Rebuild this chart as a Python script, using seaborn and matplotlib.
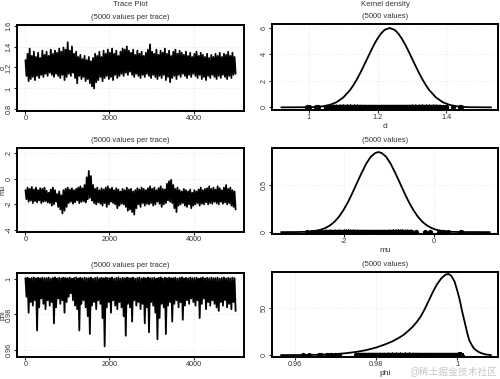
import numpy as np
import pandas as pd
import matplotlib
matplotlib.use("Agg")
import matplotlib.pyplot as plt
import seaborn as sns

# Trace envelopes (one high / one low value per 50 iterations)
d_hi = [1.27, 1.33, 1.38, 1.31, 1.35, 1.30, 1.34, 1.29, 1.36, 1.32,
        1.35, 1.31, 1.37, 1.33, 1.36, 1.34, 1.38, 1.35, 1.39, 1.37,
        1.44, 1.36, 1.40, 1.33, 1.35, 1.30, 1.32, 1.28, 1.31, 1.27,
        1.30, 1.26, 1.29, 1.33, 1.31, 1.35, 1.30, 1.36, 1.33, 1.37,
        1.34, 1.38, 1.33, 1.36, 1.31, 1.35, 1.38, 1.37, 1.40, 1.36,
        1.34, 1.37, 1.32, 1.36, 1.33, 1.35, 1.31, 1.34, 1.37, 1.42,
        1.35, 1.33, 1.37, 1.32, 1.36, 1.34, 1.38, 1.33, 1.36, 1.31,
        1.35, 1.37, 1.33, 1.36, 1.34, 1.32, 1.35, 1.31, 1.34, 1.30,
        1.33, 1.35, 1.31, 1.34, 1.32, 1.30, 1.33, 1.29, 1.32, 1.30,
        1.33, 1.31, 1.34, 1.30, 1.33, 1.32, 1.35, 1.31, 1.34, 1.30]
d_lo = [1.12, 1.07, 1.09, 1.11, 1.08, 1.12, 1.10, 1.13, 1.11, 1.14,
        1.12, 1.15, 1.13, 1.11, 1.14, 1.12, 1.10, 1.13, 1.08, 1.11,
        1.14, 1.12, 1.15, 1.10, 1.05, 1.12, 1.09, 1.11, 1.07, 1.09,
        1.05, 1.02, 1.00, 1.06, 1.08, 1.11, 1.07, 1.10, 1.12, 1.09,
        1.11, 1.08, 1.13, 1.10, 1.12, 1.14, 1.12, 1.15, 1.13, 1.16,
        1.13, 1.11, 1.14, 1.12, 1.10, 1.13, 1.11, 1.14, 1.12, 1.10,
        1.13, 1.11, 1.09, 1.12, 1.10, 1.13, 1.08, 1.11, 1.06, 1.10,
        1.12, 1.09, 1.13, 1.11, 1.14, 1.12, 1.10, 1.13, 1.11, 1.14,
        1.12, 1.10, 1.13, 1.09, 1.11, 1.08, 1.12, 1.10, 1.13, 1.11,
        1.09, 1.12, 1.10, 1.13, 1.11, 1.09, 1.12, 1.10, 1.13, 1.14]

mu_hi = [-0.9, -0.7, -0.8, -0.65, -0.85, -0.7, -0.9, -0.75, -0.8, -0.7,
         -0.95, -1.1, -0.85, -0.7, -0.9, -1.2, -1.0, -1.3, -0.9, -0.8,
         -0.7, -0.85, -0.75, -0.9, -0.8, -0.7, -0.6, -0.75, -0.5, 0.1,
         0.6, 0.2, -0.5, -0.8, -0.7, -0.9, -0.75, -0.85, -0.7, -0.6,
         -0.8, -0.7, -0.9, -0.75, -0.85, -1.0, -0.8, -0.9, -0.7, -0.85,
         -0.8, -1.0, -0.9, -0.75, -0.85, -0.7, -0.8, -0.9, -0.75, -0.6,
         -0.8, -0.7, -0.9, -0.75, -0.6, -0.8, -0.85, -0.4, -0.2, -0.1,
         -0.5, -0.8, -0.7, -0.9, -1.0, -0.8, -0.9, -1.0, -0.85, -1.1,
         -0.9, -1.0, -0.85, -0.7, -0.9, -0.8, -0.75, -0.6, -0.8, -0.7,
         -0.85, -0.6, -0.75, -0.9, -0.7, -0.5, -0.8, -0.7, -0.9, -1.0]
mu_lo = [-1.6, -1.8, -1.7, -1.9, -1.75, -1.85, -1.7, -1.9, -1.8, -1.75,
         -1.85, -1.9, -2.1, -2.0, -1.8, -2.2, -2.4, -2.7, -2.5, -2.2,
         -1.9, -1.8, -1.95, -1.85, -1.7, -1.9, -1.8, -1.75, -1.85, -1.6,
         -1.5, -1.7, -1.9, -2.0, -1.85, -1.95, -2.1, -1.9, -2.2, -2.0,
         -1.8, -1.9, -2.0, -2.3, -2.1, -1.95, -2.0, -2.2, -2.5, -2.4,
         -2.6, -2.8, -2.3, -2.0, -2.2, -1.9, -2.1, -1.95, -2.0, -1.9,
         -2.1, -2.0, -1.8, -1.95, -2.2, -2.0, -1.9, -1.7, -1.8, -1.9,
         -2.3, -2.6, -2.1, -2.0, -1.9, -2.1, -2.2, -2.0, -2.3, -2.1,
         -2.0, -1.9, -2.1, -1.95, -2.0, -1.85, -2.0, -1.9, -1.95, -1.8,
         -1.9, -2.0, -1.8, -1.95, -1.85, -2.0, -1.9, -2.1, -2.2, -2.4]

phi_hi = [1.0005, 1.0008, 1.0002, 1.0006, 1.0009, 1.0003, 1.0007, 1.0004, 1.0008, 1.0005] * 10
phi_lo = [0.990, 0.981, 0.987, 0.985, 0.988, 0.971, 0.984, 0.989, 0.986, 0.983,
          0.988, 0.985, 0.987, 0.975, 0.984, 0.989, 0.986, 0.988, 0.981, 0.987,
          0.990, 0.992, 0.988, 0.985, 0.983, 0.971, 0.986, 0.988, 0.984, 0.979,
          0.969, 0.985, 0.987, 0.983, 0.988, 0.986, 0.978, 0.962, 0.984, 0.987,
          0.981, 0.988, 0.985, 0.983, 0.987, 0.984, 0.979, 0.968, 0.986, 0.984,
          0.976, 0.988, 0.985, 0.987, 0.983, 0.986, 0.975, 0.984, 0.970, 0.987,
          0.985, 0.981, 0.966, 0.978, 0.986, 0.984, 0.969, 0.985, 0.987, 0.976,
          0.986, 0.988, 0.984, 0.987, 0.977, 0.985, 0.988, 0.986, 0.989, 0.987,
          0.985, 0.988, 0.978, 0.986, 0.989, 0.983, 0.987, 0.985, 0.988, 0.986,
          0.984, 0.982, 0.987, 0.985, 0.988, 0.984, 0.986, 0.983, 0.987, 0.982]

# Kernel density curves
d_dens_x = [0.92, 1.00, 1.02, 1.04, 1.06, 1.08, 1.10, 1.12, 1.13, 1.14, 1.15, 1.16,
            1.17, 1.18, 1.19, 1.20, 1.21, 1.22, 1.235, 1.25, 1.26, 1.27, 1.28,
            1.29, 1.30, 1.31, 1.32, 1.33, 1.34, 1.35, 1.37, 1.39, 1.41, 1.43,
            1.46, 1.53]
d_dens_y = [0, 0.01, 0.03, 0.08, 0.18, 0.38, 0.74, 1.31, 1.69, 2.13, 2.62, 3.15,
            3.69, 4.24, 4.76, 5.21, 5.58, 5.85, 6.0, 5.85, 5.58, 5.21, 4.76,
            4.24, 3.69, 3.15, 2.62, 2.13, 1.69, 1.31, 0.74, 0.38, 0.18, 0.08,
            0.015, 0]
mu_dens_x = [-3.38, -3.0, -2.8, -2.6, -2.5, -2.4, -2.3, -2.2, -2.1, -2.0, -1.9,
             -1.8, -1.7, -1.6, -1.5, -1.4, -1.3, -1.23, -1.16, -1.06, -0.96,
             -0.86, -0.76, -0.66, -0.56, -0.46, -0.36, -0.26, -0.16, -0.06,
             0.04, 0.14, 0.34, 0.54, 1.23]
mu_dens_y = [0, 0.001, 0.004, 0.015, 0.026, 0.044, 0.071, 0.11, 0.164, 0.235, 0.321,
             0.42, 0.526, 0.63, 0.726, 0.80, 0.84, 0.85, 0.84, 0.80, 0.726,
             0.63, 0.526, 0.42, 0.321, 0.235, 0.164, 0.11, 0.071, 0.044,
             0.026, 0.015, 0.004, 0.001, 0]
phi_dens_x = [0.9566, 0.962, 0.965, 0.968, 0.970, 0.9725, 0.975, 0.9775, 0.980, 0.982,
              0.984, 0.9855, 0.9868, 0.988, 0.989, 0.990, 0.991, 0.992, 0.993, 0.994,
              0.995, 0.996, 0.997, 0.9978, 0.9985, 0.9993, 1.0000, 1.0005, 1.0012,
              1.0018, 1.0024, 1.0029, 1.0035, 1.004, 1.0047, 1.0054, 1.0062, 1.007,
              1.0083]
phi_dens_y = [0, 0.1, 0.3, 0.6, 1.0, 2.0, 3.3, 5.2, 8, 11,
              14.5, 18, 21.5, 26, 30, 35, 41, 49, 58, 67,
              75, 81, 85, 86, 84, 78, 68, 60, 46,
              35, 24, 16, 11, 7.5, 4.8, 3, 1.6, 0.7,
              0]

# isolated rug points outside the trace envelopes
d_rug_extra = [0.995, 1.026, 1.443]
mu_rug_extra = [0.3, 0.2, 0.6]
phi_rug_extra = [0.9634, 0.9665, 0.968]

params = ["d", "mu", "phi"]
his = [d_hi, mu_hi, phi_hi]
los = [d_lo, mu_lo, phi_lo]
dens = [(d_dens_x, d_dens_y), (mu_dens_x, mu_dens_y), (phi_dens_x, phi_dens_y)]
extras = [d_rug_extra, mu_rug_extra, phi_rug_extra]

trace_ylim = [(0.785, 1.605), (-4.16, 2.39), (0.956, 1.0034)]
trace_yticks = [[0.8, 1, 1.2, 1.4, 1.6], [-4, -2, 0, 2], [0.96, 0.98, 1]]
trace_yticklabels = [["0.8", "1", "1.2", "1.4", "1.6"], ["-4", "-2", "0", "2"], ["0.96", "0.98", "1"]]
dens_xlim = [(0.893, 1.55), (-3.58, 1.41), (0.9544, 1.010)]
dens_ylim = [(-0.2, 6.3), (-0.02, 0.893), (-2, 88)]
dens_xticks = [[1, 1.2, 1.4], [-2, 0], [0.96, 0.98, 1]]
dens_xticklabels = [["1", "1.2", "1.4"], ["-2", "0"], ["0.96", "0.98", "1"]]
dens_yticks = [[0, 2, 4, 6], [0, 0.5], [0, 50]]
dens_yticklabels = [["0", "2", "4", "6"], ["0", "0.5"], ["0", "50"]]

sns.set_style("white")
plt.rcParams["font.family"] = ["Liberation Sans", "Noto Sans CJK SC", "DejaVu Sans"]
txt = "#333333"

W, H = 500, 379
fig = plt.figure(figsize=(5, 3.79), dpi=100)

def box(x0, y0, x1, y1):
    return fig.add_axes([x0 / W, 1 - y1 / H, (x1 - x0) / W, (y1 - y0) / H])

left_rows = [(25, 111), (148, 232), (273, 357)]
right_rows = [(24, 110), (148, 234), (272, 357)]

def style(ax):
    for s in ax.spines.values():
        s.set_linewidth(1.4)
        s.set_color("black")
    ax.tick_params(axis="both", length=2, width=0.8, pad=1, labelsize=5.2,
                   labelcolor=txt, direction="out", bottom=True, left=True)
    ax.grid(True, color="#e6e6e6", linestyle=":", linewidth=0.6)
    ax.set_axisbelow(True)

for i, p in enumerate(params):
    trace = np.column_stack([his[i], los[i]]).ravel()
    iters = np.linspace(1, 5000, len(trace))
    tr = pd.DataFrame({"iter": iters, "value": trace})

    # trace plot
    ax = box(17, left_rows[i][0], 244, left_rows[i][1])
    sns.lineplot(data=tr, x="iter", y="value", ax=ax, sort=False, estimator=None,
                 color="black", linewidth=1.3)
    ax.set_xlim(-200, 5200)
    ax.set_ylim(*trace_ylim[i])
    ax.set_xticks([0, 2000, 4000])
    ax.set_xticklabels(["0", "2000", "4000"])
    ax.set_yticks(trace_yticks[i])
    ax.set_yticklabels(trace_yticklabels[i], rotation=90, va="center")
    ax.set_xlabel("")
    ax.set_ylabel(p, fontsize=5.2, color=txt, va="center")
    ax.yaxis.set_label_coords(-14.2 / 227, 0.5)
    style(ax)
    ax.set_title("(5000 values per trace)", fontsize=5.5, color=txt, pad=4)

    # kernel density
    ax2 = box(272, right_rows[i][0], 498, right_rows[i][1])
    dd = pd.DataFrame({"x": dens[i][0], "y": dens[i][1]})
    rug = np.concatenate([trace, extras[i]])
    lo_q, hi_q = np.quantile(trace, [0.04, 0.97])
    ax2.hlines(0, lo_q, hi_q, color="black", linewidth=3.2, zorder=3)
    sns.scatterplot(x=rug, y=np.zeros(len(rug)), ax=ax2, color="black", s=14,
                    linewidth=0, zorder=4)
    sns.lineplot(data=dd, x="x", y="y", ax=ax2, sort=False, estimator=None,
                 color="black", linewidth=1.3, zorder=5)
    ax2.set_xlim(*dens_xlim[i])
    ax2.set_ylim(*dens_ylim[i])
    ax2.set_xticks(dens_xticks[i])
    ax2.set_xticklabels(dens_xticklabels[i])
    ax2.set_yticks(dens_yticks[i])
    ax2.set_yticklabels(dens_yticklabels[i], rotation=90, va="center")
    ax2.set_xlabel(p, fontsize=6, color=txt, labelpad=1)
    ax2.set_ylabel("")
    style(ax2)
    ax2.set_title("(5000 values)", fontsize=5.5, color=txt, pad=4)

fig.text(130 / W, 1 - 5 / H, "Trace Plot", ha="center", va="center", fontsize=5.5, color=txt)
fig.text(385 / W, 1 - 5 / H, "Kernel density", ha="center", va="center", fontsize=5.5, color=txt)
fig.text(453 / W, 1 - 371 / H, "@稀土掘金技术社区", ha="center", va="center",
         fontsize=7, color="#c8c8c8")

fig.savefig("out.png", dpi=100)
